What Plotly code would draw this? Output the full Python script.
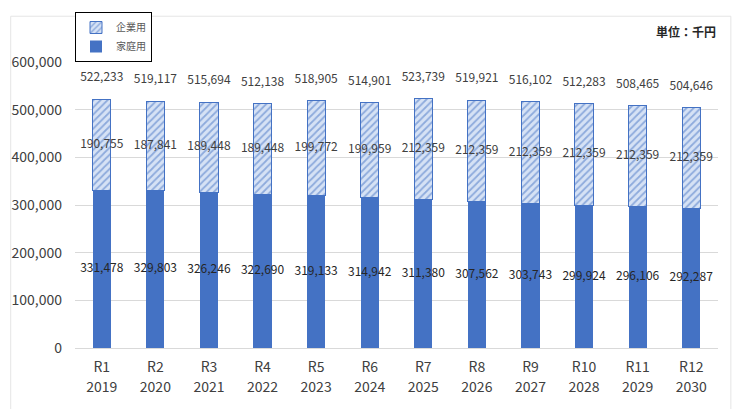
import plotly.graph_objects as go

# Fiscal-year categories (Reiwa era / Western year)
reiwa = ["R1", "R2", "R3", "R4", "R5", "R6", "R7", "R8", "R9", "R10", "R11", "R12"]
years = ["2019", "2020", "2021", "2022", "2023", "2024", "2025", "2026", "2027", "2028", "2029", "2030"]

# Values in thousand yen
household = [331478, 329803, 326246, 322690, 319133, 314942, 311380, 307562, 303743, 299924, 296106, 292287]
enterprise = [190755, 187841, 189448, 189448, 199772, 199959, 212359, 212359, 212359, 212359, 212359, 212359]
totals = [522233, 519117, 515694, 512138, 518905, 514901, 523739, 519921, 516102, 512283, 508465, 504646]

BLUE = "#4472C4"
TXT = "#404040"
FONT = "Noto Sans CJK JP"

fmt = lambda v: f"{v:,}"

fig = go.Figure()

fig.add_trace(go.Bar(
    x=reiwa, y=household, name="家庭用",
    marker=dict(color=BLUE, line=dict(width=0)),
))
fig.add_trace(go.Bar(
    x=reiwa, y=enterprise, name="企業用",
    marker=dict(
        color="#C9D8F0",
        line=dict(color=BLUE, width=1),
        pattern=dict(shape="/", fgcolor=BLUE, bgcolor="#D6E2F5", size=5, solidity=0.35),
    ),
))

# Segment value labels, centred in each segment
fig.add_trace(go.Scatter(
    x=reiwa, y=[h / 2 for h in household], mode="text",
    text=[fmt(v) for v in household], textposition="middle center",
    textfont=dict(size=12, color="#262626", family=FONT), showlegend=False, hoverinfo="skip",
))
fig.add_trace(go.Scatter(
    x=reiwa, y=[h + e / 2 for h, e in zip(household, enterprise)], mode="text",
    text=[fmt(v) for v in enterprise], textposition="middle center",
    textfont=dict(size=12, color=TXT, family=FONT), showlegend=False, hoverinfo="skip",
))
# Totals above the stacks (transparent marker keeps the text clear of the bar top)
fig.add_trace(go.Scatter(
    x=reiwa, y=totals, mode="markers+text",
    marker=dict(size=22, opacity=0),
    text=[fmt(v) for v in totals], textposition="top center",
    textfont=dict(size=12, color=TXT, family=FONT), showlegend=False, hoverinfo="skip",
))
# Invisible carrier for the second row of category labels (Western years)
fig.add_trace(go.Scatter(
    x=years, y=[0] * len(years), xaxis="x2", mode="markers",
    marker=dict(opacity=0), showlegend=False, hoverinfo="skip",
))

fig.update_layout(
    width=733, height=409,
    margin=dict(l=75, r=15, t=57, b=61),
    paper_bgcolor="white", plot_bgcolor="white",
    barmode="stack", bargap=0.66,
    font=dict(family=FONT, color=TXT, size=12),
    legend=dict(
        x=0, y=1.0, xanchor="left", yanchor="bottom",
        bordercolor="black", borderwidth=1,
        font=dict(size=10, color="#595959", family=FONT),
        traceorder="reversed", tracegroupgap=0,
        itemwidth=30,
    ),
    xaxis=dict(
        type="category", categoryarray=reiwa, range=[-0.5, 11.5],
        showgrid=False, showline=True, linecolor="#D9D9D9", linewidth=1,
        tickfont=dict(size=14, color=TXT), ticks="", ticklabelstandoff=6,
    ),
    xaxis2=dict(
        overlaying="x", side="bottom", anchor="y", type="category",
        categoryarray=years, range=[-0.5, 11.5],
        showgrid=False, showline=False, zeroline=False, ticks="",
        tickfont=dict(size=14, color=TXT), ticklabelstandoff=29,
    ),
    yaxis=dict(
        range=[0, 600000], tickvals=[0, 100000, 200000, 300000, 400000, 500000, 600000],
        tickformat=",", showgrid=True, gridcolor="#D9D9D9", gridwidth=1,
        zeroline=False, showline=False, ticks="",
        tickfont=dict(size=14, color=TXT), ticklabelstandoff=12,
    ),
    annotations=[dict(
        text="<b>単位：千円</b>", xref="paper", yref="paper", x=1.0, y=1.0,
        xanchor="right", yanchor="bottom", yshift=20, showarrow=False,
        font=dict(size=12, color="#262626", family=FONT),
    )],
    shapes=[dict(
        type="rect", xref="paper", yref="paper", x0=-0.1, x1=1.02, y0=-0.25, y1=1.16,
        line=dict(color="#E5E5E5", width=1), layer="below",
    )],
)

fig.write_html("out.html")
